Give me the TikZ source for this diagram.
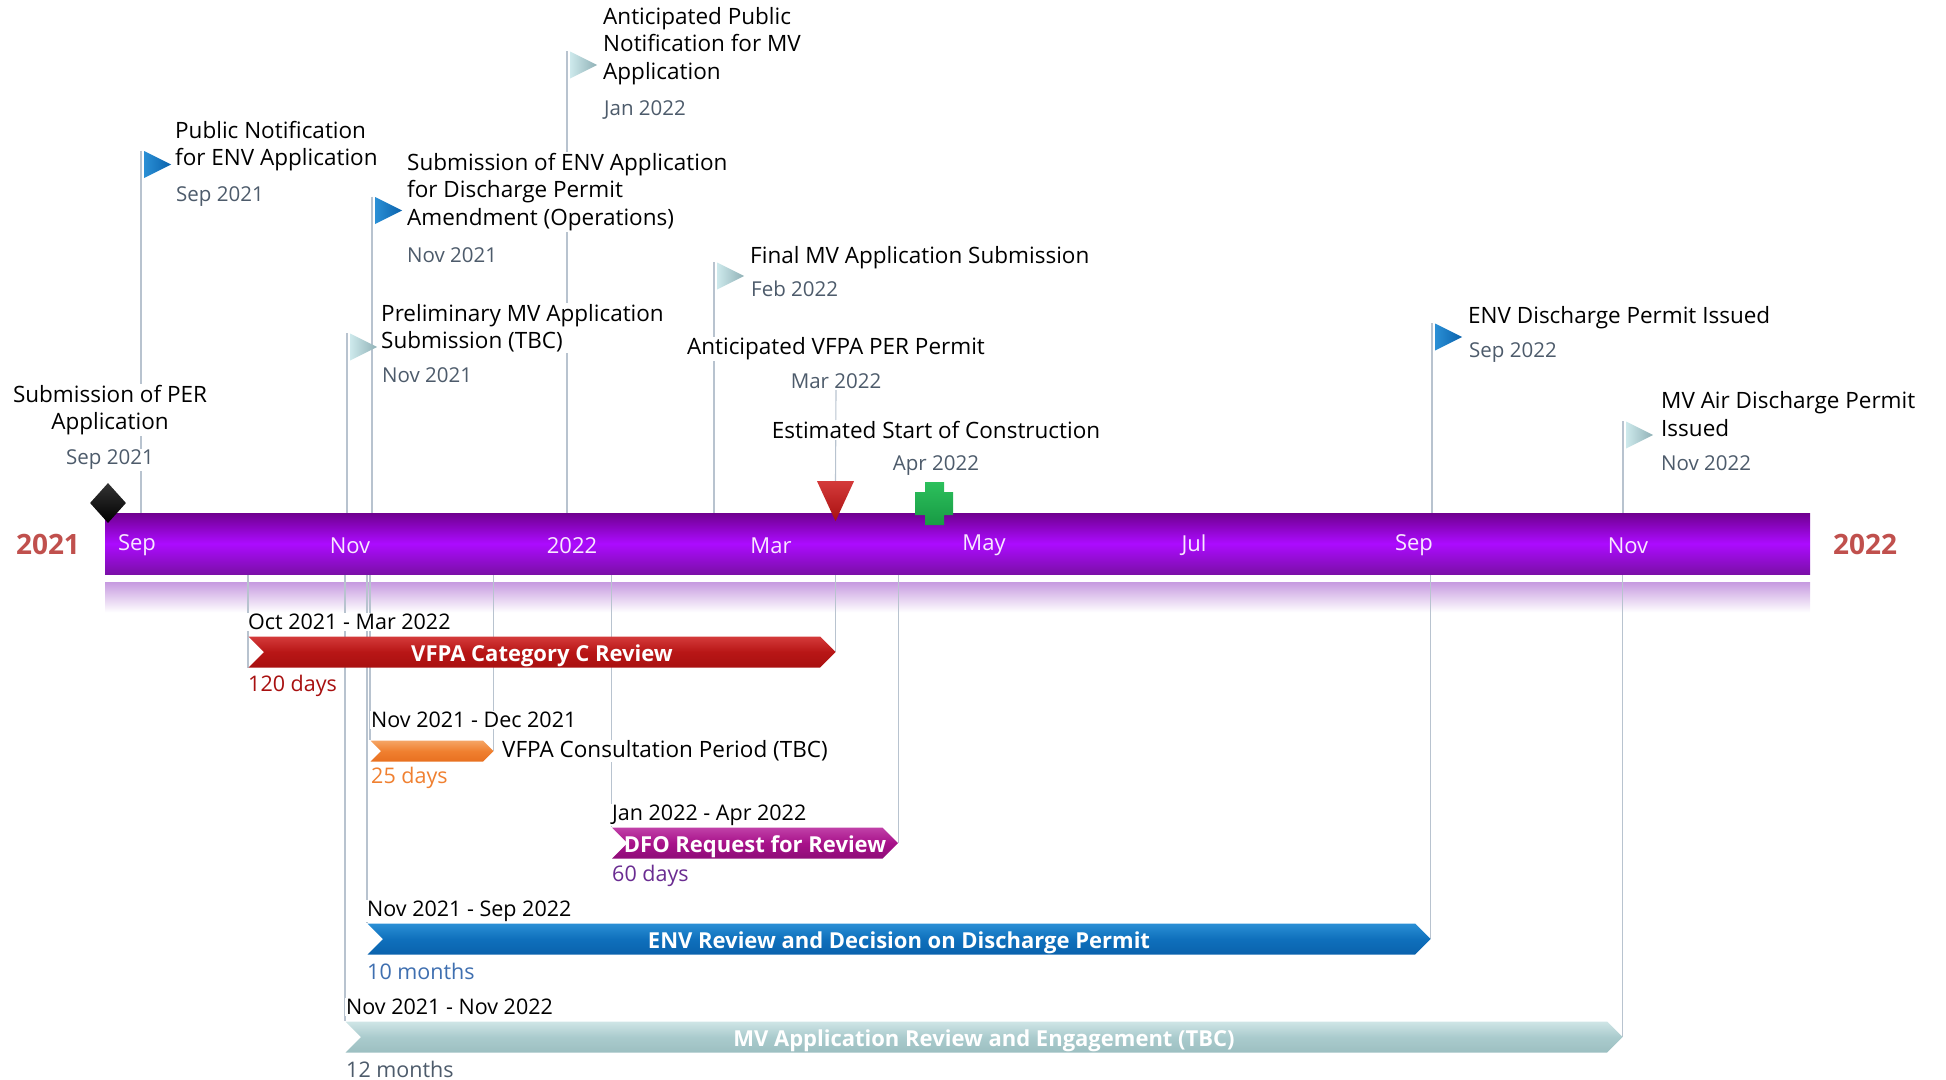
\documentclass[tikz,border=0pt]{standalone}
\usepackage{fontspec}
\setmainfont{Open Sans}
\usetikzlibrary{positioning}
\usetikzlibrary{backgrounds}
\usetikzlibrary{shapes.geometric}
\usetikzlibrary{shapes.symbols}

\definecolor{datetext}{HTML}{4D5B6B}
\definecolor{polegray}{HTML}{B8C3CF}
\definecolor{yearred}{HTML}{C0504D}
\definecolor{monthtext}{HTML}{F8E8FF}
\definecolor{paletop}{HTML}{CFE5E6}
\definecolor{palemid}{HTML}{AACBCD}
\definecolor{palebot}{HTML}{9CBFC1}
\definecolor{paleleft}{HTML}{CDE9EC}
\definecolor{paleright}{HTML}{8FB0B5}
\definecolor{bluetop}{HTML}{2A8FD5}
\definecolor{bluemid}{HTML}{0F70BC}
\definecolor{bluebot}{HTML}{0A62AC}
\definecolor{redtop}{HTML}{D43A3A}
\definecolor{redmid}{HTML}{B81616}
\definecolor{redbot}{HTML}{A81010}
\definecolor{orangetop}{HTML}{F5A565}
\definecolor{orangemid}{HTML}{F08030}
\definecolor{orangebot}{HTML}{E87020}
\definecolor{plumtop}{HTML}{C040A8}
\definecolor{plummid}{HTML}{A8128A}
\definecolor{plumbot}{HTML}{8E0C78}
\definecolor{axisdark}{HTML}{6F008F}
\definecolor{axismid}{HTML}{AC0BFF}
\definecolor{axisbot}{HTML}{7B0FA8}
\definecolor{glowtop}{HTML}{C79BE0}
\definecolor{crosstop}{HTML}{2CC05C}
\definecolor{crossbot}{HTML}{189A44}
\definecolor{dfospan}{HTML}{6A2C91}
\definecolor{envspan}{HTML}{3F6FB0}

\tikzset{
  txt/.style={font=\fontsize{22.5}{27.3}\selectfont,fill=white,inner sep=1pt,align=left},
  milestone/.style={txt,anchor=west},
  datelabel/.style={txt,font=\fontsize{20.5}{27.3}\selectfont,text=datetext,anchor=west},
  rangetxt/.style={txt,font=\fontsize{21.5}{27.3}\selectfont,anchor=west},
  spantxt/.style={txt,font=\fontsize{21.5}{27.3}\selectfont,anchor=west},
  monthtxt/.style={font=\fontsize{22}{26}\selectfont,text=monthtext},
  yeartxt/.style={font=\bfseries\fontsize{28}{30}\selectfont,text=yearred},
  pole/.style={draw=polegray,line width=1.1pt},
  flagbase/.style={isosceles triangle,isosceles triangle stretches,shape border rotate=0,
    minimum height=27pt,minimum width=27pt,inner sep=0pt,anchor=lower side},
  blueflag/.style={flagbase,left color=bluetop,right color=bluebot},
  paleflag/.style={flagbase,left color=paleleft,right color=paleright},
  banner/.style={signal,signal to=east,signal from=west,signal pointer angle=90,inner sep=0pt,
    minimum height=31pt,text=white,text height=22pt,text depth=4pt,font=\bfseries\fontsize{22}{24}\selectfont}
}

\begin{document}
\begin{tikzpicture}[x=1pt,y=-1pt]
  \useasboundingbox (0,0) rectangle (1946,1079);

  \node[minimum width=1705pt,minimum height=61pt,inner sep=0pt,
    top color=axisdark,bottom color=axisbot,middle color=axismid] (axisbar) at (957.5,543.5) {};

  \node[yeartxt] (year2021) at (48,544) {2021};
  \node[yeartxt] (year2022) at (1865,544) {2022};
  \node[monthtxt] (sep21) at (137,545.5) {Sep};
  \node[monthtxt] (nov21) at (350,545.5) {Nov};
  \node[monthtxt] (jan22) at (572,545.5) {2022};
  \node[monthtxt] (mar22) at (771,545.5) {Mar};
  \node[monthtxt] (may22) at (984,545.5) {May};
  \node[monthtxt] (jul22) at (1194,545.5) {Jul};
  \node[monthtxt] (sep22) at (1414,545.5) {Sep};
  \node[monthtxt] (nov22) at (1628,545.5) {Nov};

  \node[diamond,minimum width=36pt,minimum height=40pt,inner sep=0pt,top color=black!80,bottom color=black] (perdot) at (108,503) {};
  \node[isosceles triangle,isosceles triangle stretches,shape border rotate=270,minimum height=40pt,minimum width=37pt,inner sep=0pt,
    top color=redtop,bottom color=redbot] (vfpamark) at (835.5,493) {};
  \shade[top color=crosstop,bottom color=crossbot]
    (925,482) -- (944,482) -- (944,492) -- (953,492) -- (953,515) -- (944,515)
    -- (944,525) -- (925,525) -- (925,515) -- (915,515) -- (915,492) -- (925,492) -- cycle;

  \node[blueflag] (flagpub) at (144,164.5) {};
  \node[blueflag] (flagenv) at (375,210.5) {};
  \node[paleflag] (flagpre) at (350,347) {};
  \node[paleflag] (flagant) at (570,65) {};
  \node[paleflag] (flagfin) at (717,276) {};
  \node[blueflag] (flagdis) at (1435,337) {};
  \node[paleflag] (flagair) at (1626,435) {};

  \node[milestone,anchor=center,align=center] (pertxt) at (110,410) {Submission of PER\\Application};
  \node[datelabel,anchor=center] (perdate) at (110,460) {Sep 2021};
  \node[milestone] (pubtxt) at (174,146) {Public Notification\\for ENV Application};
  \node[datelabel] (pubdate) at (175,197) {Sep 2021};
  \node[milestone] (envtxt) at (406,192) {Submission of ENV Application\\for Discharge Permit\\Amendment (Operations)};
  \node[datelabel] (envdate) at (406,255) {Nov 2021};
  \node[milestone] (pretxt) at (380,328) {Preliminary MV Application\\Submission (TBC)};
  \node[datelabel] (predate) at (381,375) {Nov 2021};
  \node[milestone] (anttxt) at (602,46) {Anticipated Public\\Notification for MV\\Application};
  \node[datelabel] (antdate) at (603,110) {Jan 2022};
  \node[milestone] (fintxt) at (749,258) {Final MV Application Submission};
  \node[datelabel] (findate) at (750,289) {Feb 2022};
  \node[milestone,anchor=center] (vfpatxt) at (836,349) {Anticipated VFPA PER Permit};
  \node[datelabel,anchor=center] (vfpadate) at (836,381) {Mar 2022};
  \node[milestone,anchor=center] (esttxt) at (936,430) {Estimated Start of Construction};
  \node[datelabel,anchor=center] (estdate) at (936,466) {Apr 2022};
  \node[milestone] (distxt) at (1467,318) {ENV Discharge Permit Issued};
  \node[datelabel] (disdate) at (1468,353) {Sep 2022};
  \node[milestone] (airtxt) at (1660,414) {MV Air Discharge Permit\\Issued};
  \node[datelabel] (airdate) at (1660,463) {Nov 2022};

  \node[banner,minimum width=587pt,top color=redtop,bottom color=redbot,middle color=redmid] (catc) at (542,652) {VFPA Category C Review};
  \node[banner,minimum width=123pt,minimum height=21pt,text height=0pt,text depth=0pt,top color=orangetop,bottom color=orangebot,middle color=orangemid] (consult) at (432,751) {};
  \node[banner,minimum width=286pt,inner xsep=-18pt,top color=plumtop,bottom color=plumbot,middle color=plummid] (dfo) at (755,843) {DFO Request for Review};
  \node[banner,minimum width=1063pt,top color=bluetop,bottom color=bluebot,middle color=bluemid] (envrev) at (899,939) {ENV Review and Decision on Discharge Permit};
  \node[banner,minimum width=1277pt,top color=paletop,bottom color=palebot,middle color=palemid] (mvrev) at (984,1037) {MV Application Review and Engagement (TBC)};

  \node[rangetxt] (catcdate) at (247,622) {Oct 2021 - Mar 2022};
  \node[spantxt,text=redbot] (catcspan) at (247,686) {120 days};
  \node[rangetxt] (consdate) at (370,720) {Nov 2021 - Dec 2021};
  \node[milestone] (constxt) at (501,751) {VFPA Consultation Period (TBC)};
  \node[spantxt,text=orangemid] (consspan) at (370,778) {25 days};
  \node[rangetxt] (dfodate) at (611,815) {Jan 2022 - Apr 2022};
  \node[spantxt,text=dfospan] (dfospan) at (611,876) {60 days};
  \node[rangetxt] (envrdate) at (366,911) {Nov 2021 - Sep 2022};
  \node[spantxt,text=envspan] (envrspan) at (366,971) {10 months};
  \node[rangetxt] (mvdate) at (345,1007) {Nov 2021 - Nov 2022};
  \node[spantxt,text=datetext] (mvspan) at (345,1069) {12 months};

  \begin{scope}[on background layer]
    \node[below=8pt of axisbar,minimum width=1705pt,minimum height=30pt,inner sep=0pt,
      top color=glowtop,bottom color=white] (axisglow) {};
    \draw[pole] ([xshift=-3pt]flagpub.left corner) -- ([xshift=-3pt]flagpub.left corner |- axisbar.north);
    \draw[pole] ([xshift=-3pt]flagenv.left corner) -- ([xshift=-3pt]flagenv.left corner |- axisbar.north);
    \draw[pole] ([xshift=-3pt]flagpre.left corner) -- ([xshift=-3pt]flagpre.left corner |- axisbar.north);
    \draw[pole] ([xshift=-3pt]flagant.left corner) -- ([xshift=-3pt]flagant.left corner |- axisbar.north);
    \draw[pole] ([xshift=-3pt]flagfin.left corner) -- ([xshift=-3pt]flagfin.left corner |- axisbar.north);
    \draw[pole] ([xshift=-3pt]flagdis.left corner) -- ([xshift=-3pt]flagdis.left corner |- axisbar.north);
    \draw[pole] ([xshift=-3pt]flagair.left corner) -- ([xshift=-3pt]flagair.left corner |- axisbar.north);
    \draw[pole] (vfpadate.south) -- (vfpamark.north);
    \draw[pole] (catc.south west |- axisbar.south) -- (catc.south west);
    \draw[pole] (catc.east |- axisbar.south) -- (catc.east);
    \draw[pole] (consult.north west |- axisbar.south) -- (consult.north west);
    \draw[pole] (consult.east |- axisbar.south) -- (consult.east);
    \draw[pole] (dfo.north west |- axisbar.south) -- (dfo.north west);
    \draw[pole] (dfo.east |- axisbar.south) -- (dfo.east);
    \draw[pole] (envrev.north west |- axisbar.south) -- (envrev.north west);
    \draw[pole] (envrev.east |- axisbar.south) -- (envrev.east);
    \draw[pole] (mvrev.north west |- axisbar.south) -- (mvrev.north west);
    \draw[pole] (mvrev.east |- axisbar.south) -- (mvrev.east);
  \end{scope}
\end{tikzpicture}
\end{document}
